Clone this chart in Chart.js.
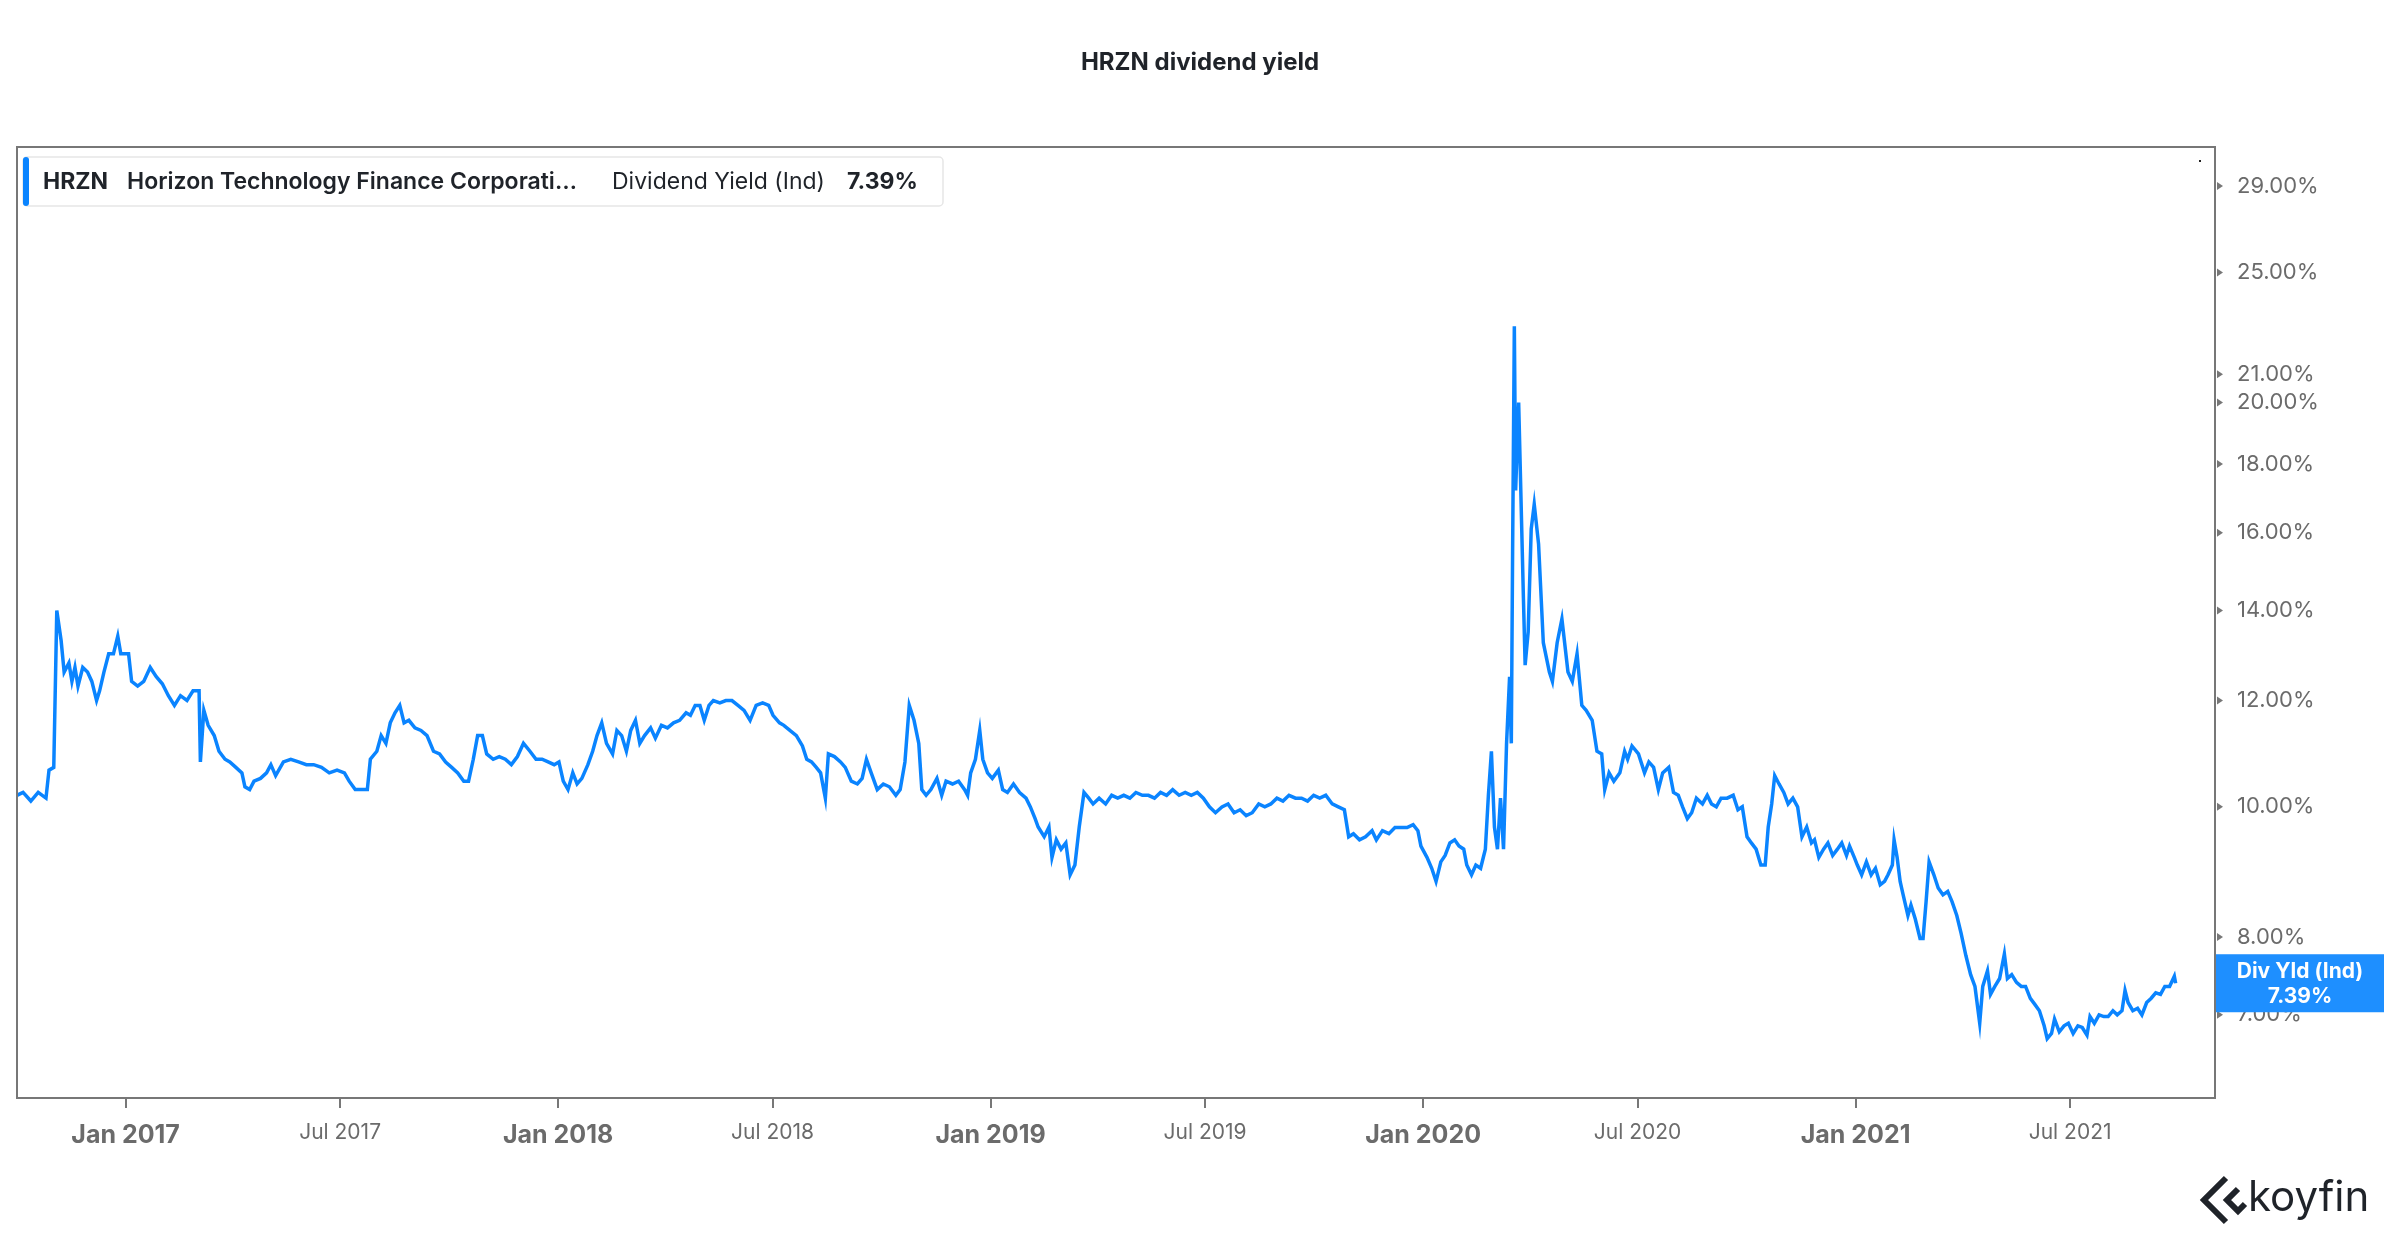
<!DOCTYPE html>
<html><head><meta charset="utf-8">
<script src="https://cdn.jsdelivr.net/npm/chart.js@4"></script>
<style>body{margin:0;background:#fff}canvas{display:block}</style>
</head><body>
<canvas id="c" width="2400" height="1240"></canvas>
<script>
const dates = [2016.749,2016.763,2016.781,2016.798,2016.816,2016.823,2016.834,2016.841,2016.851,2016.858,2016.869,2016.876,2016.883,2016.890,2016.901,2016.912,2016.922,2016.933,2016.940,2016.950,2016.961,2016.972,2016.982,2016.989,2017.007,2017.014,2017.028,2017.042,2017.057,2017.071,2017.085,2017.099,2017.113,2017.127,2017.142,2017.156,2017.170,2017.173,2017.181,2017.191,2017.205,2017.216,2017.230,2017.241,2017.255,2017.269,2017.276,2017.287,2017.297,2017.312,2017.326,2017.336,2017.347,2017.365,2017.382,2017.400,2017.418,2017.435,2017.453,2017.471,2017.489,2017.506,2017.517,2017.531,2017.545,2017.559,2017.566,2017.581,2017.591,2017.602,2017.612,2017.623,2017.634,2017.644,2017.655,2017.669,2017.683,2017.697,2017.712,2017.726,2017.740,2017.754,2017.768,2017.782,2017.793,2017.804,2017.814,2017.825,2017.835,2017.850,2017.864,2017.878,2017.892,2017.906,2017.920,2017.935,2017.949,2017.963,2017.977,2017.991,2018.002,2018.012,2018.023,2018.034,2018.044,2018.055,2018.069,2018.080,2018.090,2018.101,2018.112,2018.126,2018.136,2018.147,2018.158,2018.168,2018.179,2018.189,2018.200,2018.214,2018.225,2018.239,2018.253,2018.267,2018.281,2018.296,2018.306,2018.317,2018.328,2018.338,2018.349,2018.359,2018.374,2018.388,2018.402,2018.416,2018.430,2018.444,2018.458,2018.473,2018.487,2018.497,2018.512,2018.522,2018.536,2018.551,2018.565,2018.575,2018.586,2018.597,2018.607,2018.618,2018.625,2018.639,2018.653,2018.664,2018.678,2018.692,2018.703,2018.713,2018.724,2018.738,2018.752,2018.766,2018.781,2018.791,2018.802,2018.812,2018.823,2018.834,2018.841,2018.851,2018.862,2018.876,2018.887,2018.897,2018.912,2018.926,2018.940,2018.947,2018.954,2018.965,2018.975,2018.982,2018.993,2019.004,2019.018,2019.028,2019.039,2019.053,2019.067,2019.082,2019.092,2019.103,2019.110,2019.124,2019.135,2019.142,2019.152,2019.163,2019.174,2019.184,2019.195,2019.205,2019.216,2019.227,2019.237,2019.251,2019.266,2019.280,2019.294,2019.308,2019.322,2019.336,2019.351,2019.365,2019.379,2019.393,2019.407,2019.421,2019.436,2019.450,2019.464,2019.478,2019.492,2019.506,2019.520,2019.535,2019.549,2019.563,2019.577,2019.591,2019.605,2019.620,2019.634,2019.648,2019.662,2019.676,2019.690,2019.705,2019.719,2019.733,2019.747,2019.761,2019.775,2019.790,2019.804,2019.818,2019.828,2019.839,2019.853,2019.867,2019.882,2019.892,2019.906,2019.921,2019.935,2019.949,2019.963,2019.977,2019.988,2019.995,2020.009,2020.020,2020.030,2020.041,2020.051,2020.062,2020.073,2020.083,2020.094,2020.101,2020.112,2020.122,2020.133,2020.144,2020.151,2020.158,2020.165,2020.172,2020.179,2020.186,2020.193,2020.200,2020.204,2020.207,2020.211,2020.214,2020.221,2020.232,2020.236,2020.243,2020.250,2020.257,2020.267,2020.278,2020.292,2020.299,2020.310,2020.321,2020.335,2020.345,2020.356,2020.367,2020.377,2020.391,2020.402,2020.413,2020.420,2020.430,2020.441,2020.455,2020.466,2020.473,2020.483,2020.498,2020.512,2020.522,2020.533,2020.544,2020.554,2020.568,2020.579,2020.590,2020.600,2020.611,2020.621,2020.632,2020.646,2020.657,2020.667,2020.678,2020.689,2020.703,2020.717,2020.728,2020.738,2020.749,2020.759,2020.770,2020.781,2020.791,2020.798,2020.806,2020.813,2020.823,2020.834,2020.844,2020.855,2020.866,2020.876,2020.887,2020.898,2020.905,2020.915,2020.926,2020.936,2020.947,2020.958,2020.968,2020.979,2020.986,2020.997,2021.004,2021.014,2021.025,2021.036,2021.046,2021.057,2021.067,2021.075,2021.085,2021.089,2021.096,2021.103,2021.110,2021.121,2021.128,2021.138,2021.149,2021.156,2021.163,2021.170,2021.181,2021.191,2021.202,2021.213,2021.223,2021.234,2021.244,2021.255,2021.266,2021.276,2021.287,2021.294,2021.305,2021.312,2021.322,2021.333,2021.344,2021.351,2021.361,2021.372,2021.383,2021.393,2021.404,2021.414,2021.425,2021.436,2021.443,2021.453,2021.460,2021.471,2021.482,2021.492,2021.503,2021.514,2021.524,2021.535,2021.542,2021.552,2021.563,2021.574,2021.584,2021.595,2021.605,2021.616,2021.623,2021.630,2021.641,2021.652,2021.662,2021.673,2021.683,2021.694,2021.705,2021.715,2021.726,2021.737,2021.740];
const yieldPct = [10.2,10.25,10.1,10.25,10.15,10.65,10.7,14.0,13.3,12.6,12.8,12.4,12.7,12.3,12.7,12.6,12.4,12.0,12.2,12.6,13.0,13.0,13.4,13.0,13.0,12.4,12.3,12.4,12.7,12.5,12.35,12.1,11.9,12.1,12.0,12.2,12.2,10.8,11.8,11.5,11.3,11.0,10.85,10.8,10.7,10.6,10.35,10.3,10.45,10.5,10.6,10.75,10.55,10.8,10.85,10.8,10.75,10.75,10.7,10.6,10.65,10.6,10.45,10.3,10.3,10.3,10.85,11.0,11.3,11.15,11.55,11.75,11.9,11.55,11.6,11.45,11.4,11.3,11.0,10.95,10.8,10.7,10.6,10.45,10.45,10.85,11.3,11.3,10.95,10.85,10.9,10.85,10.75,10.9,11.15,11.0,10.85,10.85,10.8,10.75,10.8,10.45,10.3,10.6,10.4,10.5,10.75,11.0,11.3,11.55,11.15,10.95,11.4,11.3,11.0,11.4,11.6,11.15,11.3,11.45,11.25,11.5,11.45,11.55,11.6,11.75,11.7,11.9,11.9,11.6,11.9,12.0,11.95,12.0,12.0,11.9,11.8,11.6,11.9,11.95,11.9,11.7,11.55,11.5,11.4,11.3,11.1,10.85,10.8,10.7,10.6,10.15,10.95,10.9,10.8,10.7,10.45,10.4,10.5,10.85,10.6,10.3,10.4,10.35,10.2,10.3,10.8,11.9,11.6,11.15,10.3,10.2,10.3,10.5,10.2,10.45,10.4,10.45,10.3,10.2,10.6,10.85,11.4,10.85,10.6,10.5,10.65,10.3,10.25,10.4,10.25,10.15,10.0,9.8,9.66,9.5,9.66,9.17,9.45,9.3,9.4,8.9,9.05,9.66,10.25,10.15,10.05,10.15,10.05,10.2,10.15,10.2,10.15,10.25,10.2,10.2,10.15,10.25,10.2,10.3,10.2,10.25,10.2,10.25,10.15,10.0,9.9,10.0,10.05,9.9,9.95,9.85,9.9,10.05,10.0,10.05,10.15,10.1,10.2,10.15,10.15,10.1,10.2,10.15,10.2,10.05,10.0,9.95,9.5,9.55,9.45,9.5,9.6,9.45,9.6,9.55,9.65,9.65,9.65,9.7,9.6,9.35,9.17,9.0,8.8,9.1,9.2,9.4,9.45,9.35,9.3,9.05,8.9,9.05,9.0,9.3,10.2,11.0,9.66,9.3,10.15,9.3,11.15,12.5,11.15,15.5,22.8,17.2,20.0,14.3,12.75,13.5,16.1,16.8,15.7,13.25,12.6,12.4,13.25,13.8,12.6,12.4,13.0,11.9,11.8,11.6,11.0,10.95,10.3,10.6,10.45,10.6,11.0,10.85,11.1,10.95,10.6,10.8,10.7,10.3,10.6,10.7,10.25,10.2,10.0,9.8,9.9,10.15,10.05,10.2,10.05,10.0,10.15,10.15,10.2,9.95,10.0,9.5,9.4,9.3,9.05,9.05,9.66,10.05,10.55,10.4,10.25,10.05,10.15,10.0,9.5,9.66,9.4,9.45,9.17,9.3,9.4,9.2,9.3,9.4,9.2,9.35,9.17,9.05,8.9,9.1,8.9,9.0,8.75,8.8,8.9,9.05,9.45,9.17,8.8,8.6,8.3,8.45,8.25,7.98,7.98,8.5,9.1,8.9,8.7,8.6,8.65,8.5,8.3,8.05,7.75,7.5,7.35,6.9,7.35,7.55,7.25,7.35,7.45,7.77,7.45,7.5,7.4,7.35,7.35,7.2,7.13,7.05,6.87,6.72,6.78,6.95,6.8,6.87,6.9,6.78,6.87,6.85,6.76,6.98,6.9,7.0,6.98,6.98,7.05,7.0,7.05,7.3,7.15,7.05,7.08,7.0,7.15,7.2,7.27,7.25,7.35,7.35,7.48,7.39];
const xTickYears = [2017,2017.496,2018,2018.496,2019,2019.496,2020,2020.496,2021,2021.496];
const xTickLabels = ['Jan 2017','Jul 2017','Jan 2018','Jul 2018','Jan 2019','Jul 2019','Jan 2020','Jul 2020','Jan 2021','Jul 2021'];
const yTicks = [7,8,10,12,14,16,18,20,21,25,29];
const seriesTicker = 'HRZN';
const seriesName = 'Horizon Technology Finance Corporati…';
const metricName = 'Dividend Yield (Ind)';
const lastLabel = '7.39%';

const BLUE = '#0a84ff';
const FONT = 'Inter, "Noto Sans", sans-serif';

const deco = {
  id: 'deco',
  afterDraw(chart) {
    const ctx = chart.ctx, a = chart.chartArea, y = chart.scales.y;
    ctx.save();
    ctx.strokeStyle = '#777'; ctx.lineWidth = 2;
    ctx.strokeRect(a.left, a.top, a.right - a.left, a.bottom - a.top);
    ctx.fillStyle = '#1f2329'; ctx.font = 'bold 24px ' + FONT;
    ctx.textAlign = 'center'; ctx.textBaseline = 'middle';
    ctx.fillText('HRZN dividend yield', 1200, 63);
    ctx.fillStyle = '#777';
    yTicks.forEach(v => {
      const py = y.getPixelForValue(v);
      ctx.beginPath(); ctx.moveTo(a.right + 2, py - 4); ctx.lineTo(a.right + 8, py); ctx.lineTo(a.right + 2, py + 4); ctx.fill();
    });
    ctx.fillStyle = '#fff'; ctx.strokeStyle = '#e6e6e6'; ctx.lineWidth = 1.5;
    ctx.beginPath(); ctx.roundRect(23, 157, 920, 49, 4); ctx.fill(); ctx.stroke();
    ctx.fillStyle = BLUE; ctx.beginPath(); ctx.roundRect(23, 157, 6, 49, 3); ctx.fill();
    ctx.textAlign = 'left'; ctx.fillStyle = '#1f2329';
    ctx.font = 'bold 23px ' + FONT; ctx.fillText(seriesTicker, 43, 182);
    ctx.font = '600 23px ' + FONT; ctx.fillText(seriesName, 127, 182);
    ctx.font = '23px ' + FONT; ctx.fillText(metricName, 612, 182);
    ctx.font = 'bold 23px ' + FONT; ctx.fillText(lastLabel, 847, 182);
    ctx.fillStyle = '#222'; ctx.fillRect(2199, 160, 2, 2);
    const ly = y.getPixelForValue(yieldPct[yieldPct.length - 1]);
    ctx.fillStyle = '#1e8fff'; ctx.fillRect(a.right + 1, ly - 29, 168, 58);
    ctx.fillStyle = '#fff'; ctx.textAlign = 'center'; ctx.font = 'bold 21px ' + FONT;
    ctx.fillText('Div Yld (Ind)', a.right + 85, ly - 12);
    ctx.fillText(lastLabel, a.right + 85, ly + 13);
    // koyfin logo
    ctx.strokeStyle = '#1f2329'; ctx.lineWidth = 6; ctx.lineJoin = 'miter';
    ctx.beginPath(); ctx.moveTo(2226, 1178); ctx.lineTo(2204, 1200); ctx.lineTo(2226, 1222); ctx.stroke();
    ctx.beginPath(); ctx.moveTo(2238, 1189); ctx.lineTo(2227, 1200); ctx.lineTo(2238, 1211); ctx.lineTo(2245, 1204); ctx.stroke();
    ctx.fillStyle = '#1f2329'; ctx.textAlign = 'left'; ctx.font = '42px ' + FONT;
    ctx.fillText('koyfin', 2248, 1198);
    ctx.restore();
  }
};

new Chart(document.getElementById('c'), {
  type: 'line',
  data: { datasets: [{ data: dates.map((d, i) => ({ x: d, y: yieldPct[i] })), borderColor: BLUE, borderWidth: 3.5, pointRadius: 0, tension: 0, fill: false }] },
  options: {
    responsive: false, devicePixelRatio: 1, animation: false,
    layout: { padding: { left: 17, top: 147, right: 0, bottom: 0 } },
    plugins: { legend: { display: false }, tooltip: { enabled: false } },
    scales: {
      x: {
        type: 'linear', min: 2016.749, max: 2021.831,
        afterBuildTicks: s => { s.ticks = xTickYears.map(v => ({ value: v })); },
        afterFit: s => { s.height = 142; },
        grid: { drawOnChartArea: false, color: '#777', tickLength: 10, lineWidth: 2 },
        border: { display: false },
        ticks: {
          padding: 12, color: '#6b6b6b', maxRotation: 0, autoSkip: false,
          callback: v => { const i = xTickYears.indexOf(v); return i >= 0 ? xTickLabels[i] : ''; },
          font: c => { const l = xTickLabels[c.index] || ''; return l.startsWith('Jan') ? { family: FONT, size: 25, weight: 'bold' } : { family: FONT, size: 21 }; }
        }
      },
      y: {
        type: 'logarithmic', position: 'right', min: 6.07, max: 31.0,
        afterBuildTicks: s => { s.ticks = yTicks.map(v => ({ value: v })); },
        afterFit: s => { s.width = 185; },
        grid: { display: false, drawTicks: false },
        border: { display: false },
        ticks: { padding: 22, color: '#6b6b6b', font: { family: FONT, size: 22 }, autoSkip: false, callback: v => v.toFixed(2) + '%' }
      }
    }
  },
  plugins: [deco]
});
</script>
</body></html>
